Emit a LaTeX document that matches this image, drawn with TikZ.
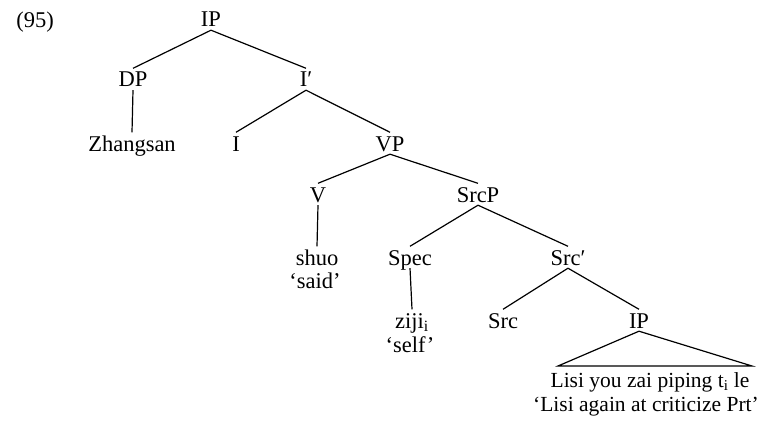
\documentclass[tikz,border=0pt]{standalone}
\usepackage{fontspec}
\setmainfont{Liberation Serif}
\begin{document}
\begin{tikzpicture}[x=1pt,y=-1pt,
  lab/.style={anchor=base,inner xsep=0pt,inner ysep=3pt,
    text height=15.5pt,text depth=0pt,
    font=\fontsize{22.5}{22}\selectfont},
  clause/.style={anchor=base,inner xsep=0pt,inner ysep=1pt,
    font=\fontsize{21.5}{22}\selectfont},
  branch/.style={line width=1.2pt}]
\useasboundingbox (0,0) rectangle (771,425);

% example number
\node[lab] (num) at (35,28) {(95)};

% nodes (positions are baselines)
\node[lab] (ip)    at (211,27)  {IP};
\node[lab] (dp)    at (133,87)  {DP};
\node[lab] (ibar)  at (306,87)  {I′};
\node[lab] (zs)    at (132,151) {Zhangsan};
\node[lab] (i)     at (236,151) {I};
\node[lab] (vp)    at (390,151) {VP};
\node[lab] (v)     at (318,202) {V};
\node[lab] (srcp)  at (478,202) {SrcP};
\node[lab] (shuo)  at (317,265) {shuo};
\node[lab] (said)  at (315,288) {‘said’};
\node[lab] (spec)  at (410,265) {Spec};
\node[lab] (srcbar) at (568,265) {Src′};
\node[lab] (ziji)  at (412,328) {ziji\textsubscript{i}};
\node[lab] (self)  at (410,352) {‘self’};
\node[lab] (src)   at (503,328) {Src};
\node[lab] (iplow) at (639,328) {IP};
\node[clause] (lisi)  at (650,387) {Lisi you zai piping t\textsubscript{i} le};
\node[clause] (gloss) at (646,411) {‘Lisi again at criticize Prt’};

% branches
\draw[branch] (ip.south) -- (dp.north);
\draw[branch] (ip.south) -- (ibar.north);
\draw[branch] (dp.south) -- (zs.north);
\draw[branch] (ibar.south) -- (i.north);
\draw[branch] (ibar.south) -- (vp.north);
\draw[branch] (vp.south) -- (v.north);
\draw[branch] (vp.south) -- (srcp.north);
\draw[branch] (v.south) -- (shuo.north);
\draw[branch] (srcp.south) -- (spec.north);
\draw[branch] (srcp.south) -- (srcbar.north);
\draw[branch] (spec.south) -- (ziji.north);
\draw[branch] (srcbar.south) -- (src.north);
\draw[branch] (srcbar.south) -- (iplow.north);

% triangle over the embedded clause
\coordinate (tl) at (558,366);
\coordinate (tr) at (752,366);
\draw[branch,line join=miter] (iplow.south) -- (tl) -- (tr) -- cycle;
\end{tikzpicture}
\end{document}
